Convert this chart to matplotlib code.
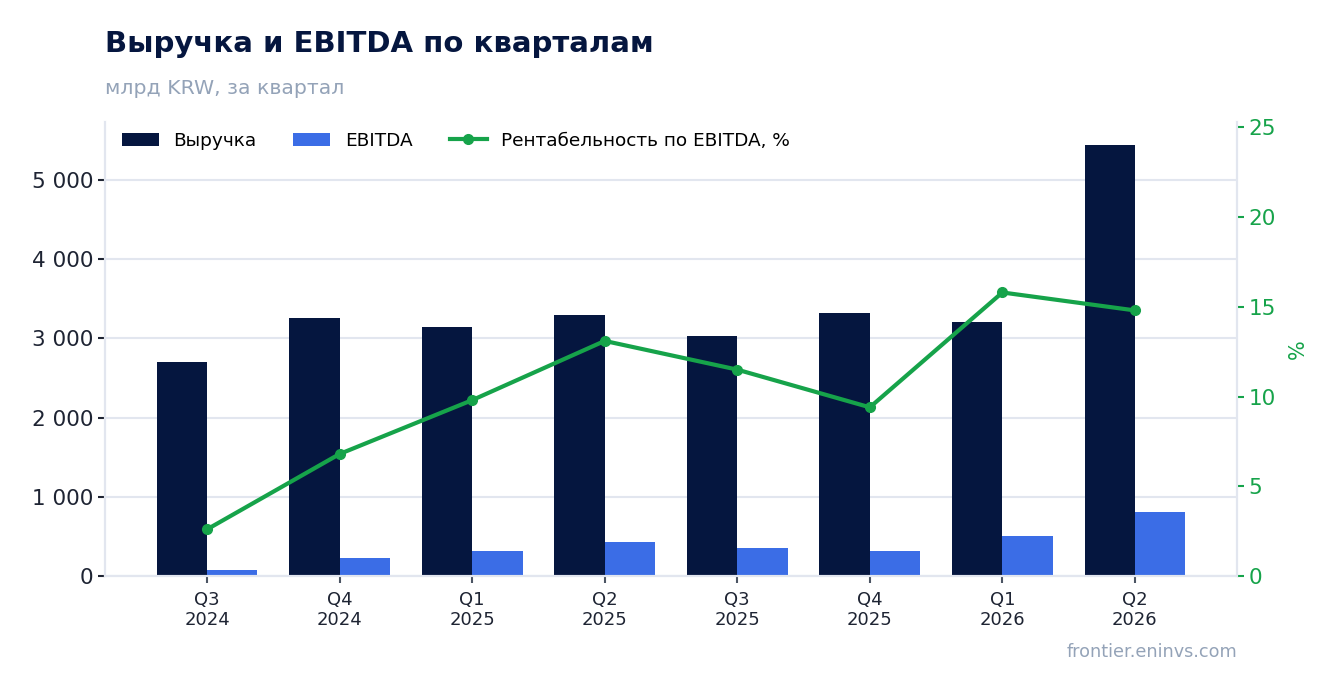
import matplotlib
matplotlib.use("Agg")
import matplotlib.pyplot as plt
import numpy as np
from matplotlib.ticker import FuncFormatter

quarters = ["Q3\n2024", "Q4\n2024", "Q1\n2025", "Q2\n2025", "Q3\n2025", "Q4\n2025", "Q1\n2026", "Q2\n2026"]
revenue = [2700, 3255, 3140, 3295, 3030, 3320, 3205, 5440]
ebitda = [75, 225, 315, 430, 350, 315, 505, 805]
margin = [2.6, 6.8, 9.8, 13.1, 11.5, 9.4, 15.8, 14.8]

navy = "#05163f"
blue = "#3b6de6"
green = "#16a34a"
grid_c = "#e2e6ef"
muted = "#94a3b8"

plt.rcParams['font.family'] = ['DejaVu Sans']

fig = plt.figure(figsize=(13.36, 6.93), dpi=100)
ax = fig.add_axes([105/1336, 1-576/693, (1237-105)/1336, (576-122)/693])
ax2 = ax.twinx()

x = np.arange(len(quarters))
w = 0.38
ax.bar(x - w/2, revenue, w, color=navy, label="Выручка", zorder=2)
ax.bar(x + w/2, ebitda, w, color=blue, label="EBITDA", zorder=2)
ax2.plot(x, margin, color=green, lw=3, marker="o", ms=7, label="Рентабельность по EBITDA, %", zorder=3)

ax.set_xlim(-0.77, 7.77)
ax.set_ylim(0, 5730)
ax2.set_ylim(0, 25.3)
ax.set_yticks([0, 1000, 2000, 3000, 4000, 5000])
ax.yaxis.set_major_formatter(FuncFormatter(lambda v, p: f"{int(v):,}".replace(",", " ")))
ax2.set_yticks([0, 5, 10, 15, 20, 25])
ax.set_xticks(x)
ax.set_xticklabels(quarters, fontsize=13, color="#1e2433")
ax.grid(axis="y", color=grid_c, lw=1.5, zorder=0)
ax.set_axisbelow(True)

for a in (ax, ax2):
    a.spines["top"].set_visible(False)
    for s in ("left", "right", "bottom"):
        a.spines[s].set_color(grid_c)
        a.spines[s].set_linewidth(1.5)
ax.tick_params(axis="y", labelsize=15.5, colors="#1e2433", length=5, width=1.5)
ax.tick_params(axis="x", colors="#4b5563", labelcolor="#1e2433", length=5, width=1.5, pad=5.5)
ax2.tick_params(axis="y", labelsize=15.5, colors=green, length=5, width=1.5)
ax2.set_ylabel("%", color=green, fontsize=15, labelpad=8)

h1, l1 = ax.get_legend_handles_labels()
h2, l2 = ax2.get_legend_handles_labels()
ax.legend(h1 + h2, l1 + l2, loc="upper left", ncol=3, frameon=False, fontsize=13.3,
          bbox_to_anchor=(0.0, 1.015), handlelength=2.0, columnspacing=2.0)

fig.text(105/1336, 1-44/693, "Выручка и EBITDA по кварталам", fontsize=21, fontweight="bold",
         color=navy, va="center", ha="left")
fig.text(105/1336, 1-88/693, "млрд KRW, за квартал", fontsize=14.7, color=muted, va="center", ha="left")
fig.text(1237/1336, 1-652/693, "frontier.eninvs.com", fontsize=12.7, color=muted, va="center", ha="right")

fig.savefig("out.png", dpi=100, facecolor="white")
